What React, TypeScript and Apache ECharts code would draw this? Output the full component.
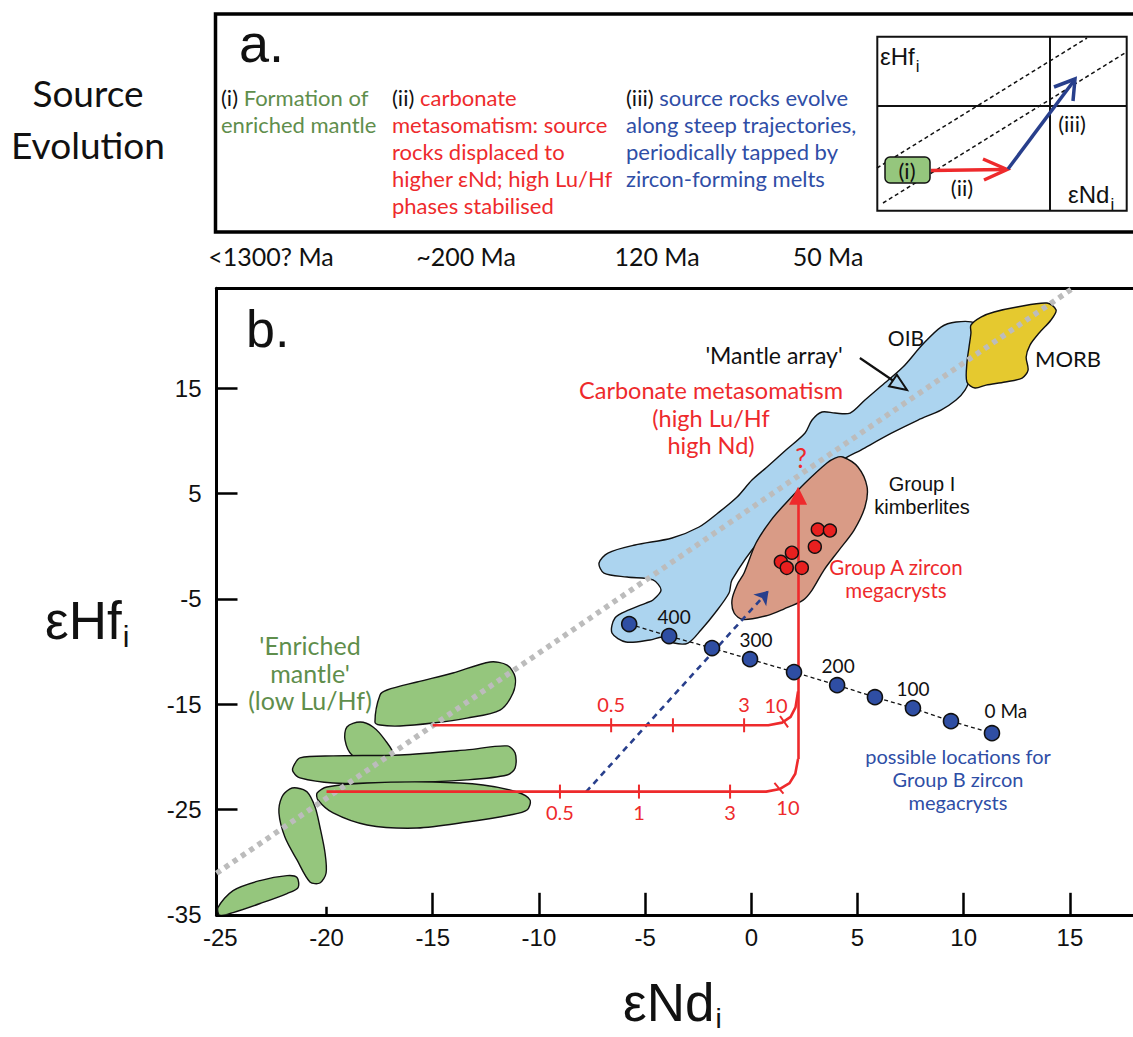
import React, { useEffect, useRef } from "react";
import * as echarts from "echarts";

// ---------- axis ticks ----------
const xTickValues = [-25, -20, -15, -10, -5, 0, 5, 10, 15];
const xLongTicks = [-15, -10, -5, 0, 5, 10, 15];
const xShortTicks = [-20];
const yTickValues = [-35, -25, -15, -5, 5, 15];
const yTicks = [-25, -15, -5, 5, 15];

// ---------- panel a texts ----------
const timeLabels = ["<1300? Ma", "~200 Ma", "120 Ma", "50 Ma"];

// ---------- panel b data (εNd, εHf) ----------
const mantleArray = [[-25.18, -31.06], [15.14, 24.5]];

const enrichedField1 = [[-17.72, -16.69], [-17.48, -14.12], [-17.15, -13.65], [-15.74, -12.89], [-14.05, -12.04], [-12.3, -10.99], [-11.5, -11.28], [-11.12, -12.42], [-11.22, -13.94], [-11.83, -15.56], [-13.39, -16.32], [-14.99, -16.79], [-16.54, -17.07], [-17.48, -16.98]];
const enrichedField2 = [[-18.8, -19.82], [-19.13, -18.39], [-19.04, -17.16], [-18.42, -16.69], [-17.81, -17.16], [-17.25, -18.39], [-16.87, -19.82], [-17.81, -20.58]];
const enrichedField3 = [[-21.57, -20.96], [-21.25, -20.1], [-19.69, -19.91], [-16.54, -19.82], [-13.39, -19.34], [-11.5, -18.96], [-11.12, -19.63], [-11.12, -21.05], [-11.5, -21.72], [-13.39, -22.19], [-16.54, -22.48], [-19.69, -22.48], [-21.25, -22.0], [-21.57, -21.43]];
const enrichedField4 = [[-20.44, -23.43], [-19.98, -22.86], [-18.09, -22.48], [-14.99, -22.39], [-12.63, -22.67], [-11.03, -23.34], [-10.42, -24.1], [-10.56, -25.05], [-11.36, -25.52], [-13.39, -26.19], [-15.74, -26.76], [-18.09, -26.47], [-19.69, -25.33], [-20.4, -24.1]];
const enrichedField5 = [[-21.39, -22.96], [-20.91, -23.34], [-20.54, -24.76], [-20.31, -26.66], [-20.07, -29.13], [-20.02, -31.03], [-20.31, -31.98], [-20.78, -31.88], [-21.39, -29.79], [-21.96, -27.61], [-22.24, -25.33], [-22.1, -23.81], [-21.72, -23.05]];
const enrichedField6 = [[-25.11, -34.31], [-24.4, -32.7], [-23.13, -31.75], [-21.86, -31.28], [-21.39, -31.46], [-21.34, -32.41], [-21.86, -32.98], [-23.13, -33.93], [-24.4, -34.79], [-25.02, -35.07]];

const oibField = [[10.53, 21.2], [9.64, 21.3], [8.93, 20.82], [8.04, 19.11], [7.14, 17.02], [6.06, 15.12], [5.35, 13.89], [4.65, 12.65], [3.94, 12.65], [3.33, 12.75], [2.86, 11.99], [2.53, 10.76], [1.63, 9.14], [0.74, 7.53], [0.03, 6.29], [-0.67, 4.68], [-1.57, 3.16], [-2.46, 1.83], [-3.73, 0.79], [-5.48, 0.12], [-6.75, -0.64], [-7.17, -1.59], [-6.94, -2.54], [-5.85, -2.92], [-4.63, -3.2], [-4.25, -4.15], [-4.63, -5.1], [-4.96, -5.39], [-5.76, -6.05], [-6.42, -6.81], [-6.56, -8.24], [-5.9, -9.09], [-4.77, -8.9], [-4.16, -8.62], [-3.64, -9.19], [-2.98, -9.19], [-2.37, -7.95], [-1.71, -6.34], [-1.05, -4.44], [-0.91, -3.2], [0.41, 0.59], [2.29, 4.39], [4.31, 8.19], [5.16, 9.14], [6.62, 10.76], [7.85, 11.99], [8.93, 12.94], [9.64, 13.89], [10.06, 14.84], [10.25, 15.79], [10.15, 17.02], [10.34, 18.35], [10.63, 20.25]];
const kimberliteField = [[4.31, 8.48], [5.02, 7.53], [5.45, 5.63], [5.35, 3.73], [4.84, 1.54], [4.13, -0.36], [3.42, -2.26], [2.86, -4.16], [2.44, -5.11], [1.53, -5.96], [0.74, -6.58], [-0.39, -6.96], [-0.81, -6.34], [-0.91, -5.1], [-0.67, -3.67], [-0.34, -2.54], [0.22, 0.31], [0.93, 2.49], [1.63, 4.11], [2.53, 6.01], [3.56, 7.91], [3.94, 8.38]];
const morbField = [[10.34, 21.01], [10.81, 21.77], [11.43, 22.25], [12.51, 22.72], [13.92, 23.1], [14.35, 22.44], [14.11, 21.49], [13.55, 20.25], [13.12, 19.11], [12.94, 17.97], [13.03, 16.74], [12.75, 15.98], [11.95, 15.6], [11.05, 15.31], [10.53, 15.03], [10.15, 15.6], [10.15, 17.4], [10.25, 18.92], [10.34, 20.25]];

const groupAZirconNd = [3.13, 3.7, 2.99, 1.91, 1.39, 1.67, 2.38];
const groupAZirconHf = [1.59, 1.49, -0.04, -0.61, -1.48, -2.05, -2.05];

const groupBAges = [450, 400, 350, 300, 250, 200, 150, 100, 50, 0];
const groupBNd = [-5.75, -3.87, -1.85, -0.06, 2.01, 4.04, 5.82, 7.61, 9.4, 11.33];
const groupBHf = [-7.39, -8.53, -9.67, -10.72, -11.95, -13.19, -14.33, -15.37, -16.61, -17.75];
const groupBLabels = ["", "400", "", "300", "", "200", "", "100", "", "0 Ma"];

const upperLuHfPath = [[-15, -17.0], [0.8, -17.0], [1.45, -16.75], [1.85, -16.2], [2.08, -15.3], [2.2, -13.8]];
const lowerLuHfPath = [[-20, -23.3], [0.7, -23.3], [1.35, -23.05], [1.8, -22.5], [2.07, -21.6], [2.2, -20.2]];
const carbonateArrow = [[2.2, -20.2], [2.2, 4.8]];
const groupBTrend = [[-7.78, -23.33], [0.81, -4.23]];
const mantleArrayPointer = [[5.11, 17.88], [7.33, 14.84]];

const upperTickNd = [-6.6, -3.69, -0.34, 1.54];
const upperTickHf = [-17, -17, -17, -16.66];
const upperTickAngle = [0, 0, 0, 35];
const upperTickLabels = ["0.5", "", "3", "10"];
const lowerTickNd = [-9.01, -5.29, -1.0, 1.3];
const lowerTickHf = [-23.3, -23.3, -23.3, -22.98];
const lowerTickAngle = [0, 0, 0, 40];
const lowerTickLabels = ["0.5", "1", "3", "10"];

// ---------- styles ----------
const LATO = "Lato, 'Open Sans', sans-serif";
const ARIAL = "'Liberation Sans', Arial, sans-serif";
const GREEN_FILL = "#95c67d";
const BLUE_FILL = "#acd4ef";
const PINK_FILL = "#d99b86";
const YELLOW_FILL = "#e5c92f";
const RED = "#ee2a2c";
const NAVY = "#283f8c";
const BLUE_TEXT = "#2f4ea6";
const GREEN_TEXT = "#5f8e4c";

const X_MIN = -25.18;
const X_MAX = 17.97;

let measureCtx: CanvasRenderingContext2D | null = null;
function textWidth(text: string, fontSize: number, family: string) {
  if (!measureCtx) measureCtx = document.createElement("canvas").getContext("2d");
  if (!measureCtx) return text.length * fontSize * 0.55;
  measureCtx.font = `${fontSize}px ${family}`;
  return measureCtx.measureText(text).width;
}

function fieldSeries(fields: number[][][], fill: string, z: number) {
  return {
    type: "custom",
    coordinateSystem: "cartesian2d",
    silent: true,
    clip: true,
    z,
    data: fields.map((f, i) => [f[0][0], f[0][1], i]),
    renderItem: (params: any, api: any) => {
      const pts = fields[params.dataIndex].map((p) => api.coord(p));
      return {
        type: "polygon",
        shape: { points: pts, smooth: 0.3 },
        style: { fill, stroke: "#111", lineWidth: 1.4 },
      };
    },
  };
}

function tickSeries(nd: number[], hf: number[], ang: number[], labels: string[], labelOffsets: number[][]) {
  return {
    type: "custom",
    coordinateSystem: "cartesian2d",
    silent: true,
    z: 6,
    data: nd.map((x, i) => [x, hf[i], ang[i]]),
    renderItem: (params: any, api: any) => {
      const p = api.coord([api.value(0), api.value(1)]);
      const a = (api.value(2) * Math.PI) / 180;
      const h = 7;
      const dx = h * Math.sin(a);
      const dy = h * Math.cos(a);
      const i = params.dataIndex;
      const children: any[] = [
        { type: "line", shape: { x1: p[0] - dx, y1: p[1] - dy, x2: p[0] + dx, y2: p[1] + dy }, style: { stroke: RED, lineWidth: 2 } },
      ];
      if (labels[i]) {
        const off = labelOffsets[i];
        children.push({
          type: "text",
          x: p[0] + off[0],
          y: p[1] + off[1],
          style: { text: labels[i], fill: RED, fontSize: 20, fontFamily: LATO, align: "center", verticalAlign: "middle" },
        });
      }
      return { type: "group", children };
    },
  };
}

function txt(x: number, y: number, text: string, fontSize: number, fill: string, family = LATO, align = "center", extra: any = {}) {
  return {
    type: "text",
    x,
    y,
    z: 100,
    silent: true,
    style: { text, fontSize, fill, fontFamily: family, align, verticalAlign: "middle", ...extra },
  };
}

function ln(x1: number, y1: number, x2: number, y2: number, stroke: string, lineWidth: number, extra: any = {}) {
  return { type: "line", z: 100, silent: true, shape: { x1, y1, x2, y2 }, style: { stroke, lineWidth, ...extra } };
}

// text with a subscript placed right after the measured main text
function subText(g: any[], x: number, y: number, main: string, sub: string, size: number, subSize: number, subDy: number) {
  g.push(txt(x, y, main, size, "#111", ARIAL, "left"));
  const w = textWidth(main, size, ARIAL);
  g.push(txt(x + w + 1, y + subDy, sub, subSize, "#111", ARIAL, "left"));
}

function buildGraphic() {
  const g: any[] = [];
  // panel a frame
  g.push({ type: "rect", z: 90, silent: true, shape: { x: 215.5, y: 14, width: 925, height: 218 }, style: { fill: "none", stroke: "#000", lineWidth: 3.5 } });
  g.push(txt(88, 92, "Source", 37, "#111"));
  g.push(txt(88, 144, "Evolution", 37, "#111"));
  g.push(txt(239, 43, "a.", 54, "#111", ARIAL, "left"));
  const colFont = 22;
  g.push({
    type: "text", x: 221, y: 83.5, z: 100, silent: true,
    style: {
      text: "{k|(i) }{g|Formation of}\n{g|enriched mantle}",
      verticalAlign: "top", align: "left",
      rich: {
        k: { fill: "#111", fontSize: colFont, fontFamily: LATO, lineHeight: 27 },
        g: { fill: GREEN_TEXT, fontSize: colFont, fontFamily: LATO, lineHeight: 27 },
      },
    },
  });
  g.push({
    type: "text", x: 392, y: 83.5, z: 100, silent: true,
    style: {
      text: "{k|(ii) }{r|carbonate}\n{r|metasomatism: source}\n{r|rocks displaced to}\n{r|higher εNd; high Lu/Hf}\n{r|phases stabilised}",
      verticalAlign: "top", align: "left",
      rich: {
        k: { fill: "#111", fontSize: colFont, fontFamily: LATO, lineHeight: 27 },
        r: { fill: RED, fontSize: colFont, fontFamily: LATO, lineHeight: 27 },
      },
    },
  });
  g.push({
    type: "text", x: 626, y: 83.5, z: 100, silent: true,
    style: {
      text: "{k|(iii) }{b|source rocks evolve}\n{b|along steep trajectories,}\n{b|periodically tapped by}\n{b|zircon-forming melts}",
      verticalAlign: "top", align: "left",
      rich: {
        k: { fill: "#111", fontSize: colFont, fontFamily: LATO, lineHeight: 27 },
        b: { fill: BLUE_TEXT, fontSize: colFont, fontFamily: LATO, lineHeight: 27 },
      },
    },
  });
  // inset
  g.push({ type: "rect", z: 95, silent: true, shape: { x: 877.3, y: 36.7, width: 249.4, height: 174 }, style: { fill: "none", stroke: "#111", lineWidth: 2 } });
  g.push(ln(1050, 36.7, 1050, 210.7, "#111", 2));
  g.push(ln(877.3, 106, 1126.7, 106, "#111", 2));
  g.push(ln(877, 168, 1087, 38, "#111", 1.5, { lineDash: [4, 3] }));
  g.push(ln(883, 203, 1125, 53, "#111", 1.5, { lineDash: [4, 3] }));
  g.push({ type: "rect", z: 101, silent: true, shape: { x: 885, y: 157, width: 45, height: 26, r: 5 }, style: { fill: GREEN_FILL, stroke: "#111", lineWidth: 1.5 } });
  g.push({ ...txt(907, 170, "(i)", 22, "#111"), z: 102 });
  g.push(ln(931, 170.5, 1004, 169.5, RED, 3.5));
  g.push({ type: "polyline", z: 100, silent: true, shape: { points: [[983, 159], [1007, 169.5], [984, 180]] }, style: { stroke: RED, lineWidth: 3.5, fill: "none" } });
  g.push(ln(1008, 169, 1073, 82, NAVY, 3.5));
  g.push({ type: "polyline", z: 100, silent: true, shape: { points: [[1054, 87], [1075, 79], [1073, 101]] }, style: { stroke: NAVY, lineWidth: 3.5, fill: "none" } });
  g.push(txt(962, 187, "(ii)", 22, "#111"));
  g.push(txt(1072, 123, "(iii)", 22, "#111"));
  subText(g, 880, 56, "εHf", "i", 24, 17, 10);
  subText(g, 1068, 194, "εNd", "i", 24, 17, 10);
  // time labels
  const timeX = [271, 466, 657, 828];
  timeLabels.forEach((t, i) => g.push(txt(timeX[i], 256, t, 25, "#111")));

  // panel b annotations
  g.push(txt(246, 329, "b.", 52, "#111", ARIAL, "left"));
  subText(g, 45, 620.5, "εHf", "i", 53, 30, 16);
  subText(g, 623, 1002, "εNd", "i", 53, 28, 16);

  g.push(txt(774, 355, "'Mantle array'", 23, "#111"));
  g.push(txt(906, 337, "OIB", 21, "#111"));
  g.push(txt(1068, 358, "MORB", 22, "#111"));
  g.push(txt(711, 390, "Carbonate metasomatism", 23.5, RED));
  g.push(txt(711, 417.5, "(high Lu/Hf", 23.5, RED));
  g.push(txt(711, 445, "high Nd)", 23.5, RED));
  g.push(txt(801, 458, "?", 26, RED));
  g.push(txt(922, 484, "Group I", 20, "#111", ARIAL));
  g.push(txt(922, 507, "kimberlites", 20, "#111", ARIAL));
  g.push(txt(896, 567, "Group A zircon", 20.5, RED));
  g.push(txt(896, 590, "megacrysts", 20.5, RED));
  g.push(txt(958, 756, "possible locations for", 20, BLUE_TEXT));
  g.push(txt(958, 779, "Group B zircon", 20, BLUE_TEXT));
  g.push(txt(958, 802, "megacrysts", 20, BLUE_TEXT));
  g.push(txt(310, 645, "'Enriched", 25, GREEN_TEXT));
  g.push(txt(310, 672.5, "mantle'", 25, GREEN_TEXT));
  g.push(txt(310, 700, "(low Lu/Hf)", 25, GREEN_TEXT));
  return g;
}

function buildOption() {
  const groupBLabelOffsets: Record<number, number[]> = { 1: [5, 0], 3: [6, 0], 5: [1, 0], 7: [0, 0], 9: [14, -3] };
  const groupBData = groupBNd.map((nd, i) => {
    const item: any = { value: [nd, groupBHf[i], groupBAges[i]] };
    if (groupBLabels[i]) {
      item.label = {
        show: true,
        position: "top",
        distance: 2,
        offset: groupBLabelOffsets[i],
        formatter: groupBLabels[i],
        color: "#111",
        fontSize: 19,
        fontFamily: LATO,
      };
    }
    return item;
  });

  const axisCommon = { type: "value", min: X_MIN, max: X_MAX, splitLine: { show: false } };

  return {
    animation: false,
    backgroundColor: "#fff",
    grid: { left: 216.5, right: 0, top: 288.3, bottom: 122.2, containLabel: false },
    xAxis: [
      {
        ...axisCommon,
        position: "bottom",
        axisLine: { show: true, onZero: false, lineStyle: { color: "#000", width: 3 } },
        axisTick: { show: true, inside: true, length: 22, lineStyle: { color: "#000", width: 2.5 }, customValues: xLongTicks },
        axisLabel: { show: true, customValues: xTickValues, margin: 11, fontSize: 24, color: "#111", fontFamily: ARIAL },
      },
      {
        ...axisCommon,
        position: "bottom",
        axisLine: { show: false, onZero: false },
        axisTick: { show: true, inside: true, length: 8, lineStyle: { color: "#000", width: 2.5 }, customValues: xShortTicks },
        axisLabel: { show: false },
      },
      {
        ...axisCommon,
        position: "top",
        axisLine: { show: true, onZero: false, lineStyle: { color: "#000", width: 3 } },
        axisTick: { show: false },
        axisLabel: { show: false },
      },
    ],
    yAxis: {
      type: "value",
      min: -35,
      max: 24.5,
      splitLine: { show: false },
      axisLine: { show: true, onZero: false, lineStyle: { color: "#000", width: 3 } },
      axisTick: { show: true, inside: true, length: 21, lineStyle: { color: "#000", width: 2.5 }, customValues: yTicks },
      axisLabel: { show: true, customValues: yTickValues, margin: 15, fontSize: 24, color: "#111", fontFamily: ARIAL },
    },
    graphic: buildGraphic(),
    series: [
      fieldSeries([enrichedField1, enrichedField2, enrichedField3, enrichedField4, enrichedField5, enrichedField6], GREEN_FILL, 1),
      fieldSeries([oibField], BLUE_FILL, 1),
      fieldSeries([kimberliteField], PINK_FILL, 1),
      fieldSeries([morbField], YELLOW_FILL, 1),
      {
        type: "line",
        silent: true,
        z: 2,
        data: mantleArray,
        showSymbol: false,
        symbol: "none",
        lineStyle: { color: "#bcbcbc", width: 5.5, type: [5, 5] },
      },
      {
        type: "line",
        silent: true,
        z: 4,
        data: upperLuHfPath,
        symbol: "none",
        lineStyle: { color: RED, width: 2.6 },
      },
      {
        type: "line",
        silent: true,
        z: 4,
        data: lowerLuHfPath,
        symbol: "none",
        lineStyle: { color: RED, width: 2.6 },
      },
      {
        type: "lines",
        coordinateSystem: "cartesian2d",
        silent: true,
        z: 4,
        symbol: ["none", "triangle"],
        symbolSize: 18,
        lineStyle: { color: RED, width: 2.6, opacity: 1 },
        data: [{ coords: carbonateArrow }],
      },
      {
        type: "lines",
        coordinateSystem: "cartesian2d",
        silent: true,
        z: 4,
        symbol: ["none", "arrow"],
        symbolSize: 13,
        lineStyle: { color: NAVY, width: 2.6, type: [6, 5], opacity: 1 },
        data: [{ coords: groupBTrend }],
      },
      tickSeries(upperTickNd, upperTickHf, upperTickAngle, upperTickLabels, [[0, -21], [0, -21], [0, -21], [-8, -17]]),
      tickSeries(lowerTickNd, lowerTickHf, lowerTickAngle, lowerTickLabels, [[0, 20], [0, 20], [0, 20], [9, 19]]),
      {
        type: "custom",
        coordinateSystem: "cartesian2d",
        silent: true,
        z: 6,
        data: [[mantleArrayPointer[0][0], mantleArrayPointer[0][1], mantleArrayPointer[1][0], mantleArrayPointer[1][1]]],
        renderItem: (params: any, api: any) => {
          const p1 = api.coord([api.value(0), api.value(1)]);
          const p2 = api.coord([api.value(2), api.value(3)]);
          const dx = p2[0] - p1[0];
          const dy = p2[1] - p1[1];
          const L = Math.sqrt(dx * dx + dy * dy);
          const ux = dx / L;
          const uy = dy / L;
          const bx = p2[0] - 17 * ux;
          const by = p2[1] - 17 * uy;
          return {
            type: "group",
            children: [
              { type: "line", shape: { x1: p1[0], y1: p1[1], x2: bx, y2: by }, style: { stroke: "#111", lineWidth: 2.2 } },
              {
                type: "polygon",
                shape: { points: [[p2[0], p2[1]], [bx - 7 * uy, by + 7 * ux], [bx + 7 * uy, by - 7 * ux]] },
                style: { fill: "rgba(0,0,0,0)", stroke: "#111", lineWidth: 2 },
              },
            ],
          };
        },
      },
      {
        type: "line",
        silent: true,
        z: 8,
        data: groupBData,
        symbol: "circle",
        symbolSize: 15,
        showSymbol: true,
        itemStyle: { color: "#2f4ea3", borderColor: "#111", borderWidth: 1.6 },
        lineStyle: { color: "#111", width: 1.3, type: [4, 3] },
      },
      {
        type: "scatter",
        silent: true,
        z: 8,
        data: groupAZirconNd.map((x, i) => [x, groupAZirconHf[i]]),
        symbol: "circle",
        symbolSize: 13,
        itemStyle: { color: "#e8201f", borderColor: "#111", borderWidth: 1.4, opacity: 1 },
      },
    ],
  };
}

export default function App() {
  const ref = useRef<HTMLDivElement>(null);
  useEffect(() => {
    document.body.style.margin = "0";
    const chart = echarts.init(ref.current as HTMLDivElement, null, { renderer: "svg" });
    chart.setOption(buildOption() as any);
    return () => chart.dispose();
  }, []);
  return <div ref={ref} style={{ width: 1133, height: 1037, background: "#fff" }} />;
}
